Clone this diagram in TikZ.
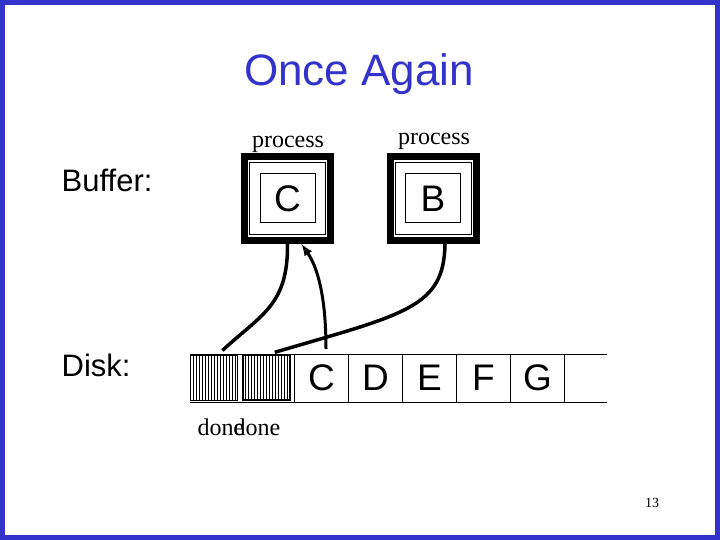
\documentclass[tikz,border=0pt]{standalone}
\usepackage{fontspec}
\setmainfont{Liberation Serif}
\setsansfont{Liberation Sans}
\usepackage{xcolor}
\usepackage{tikz}
\usetikzlibrary{positioning}
\definecolor{slideblue}{RGB}{51,51,204}

\begin{document}
\begin{tikzpicture}[x=1pt, y=-1pt, thick]
        % Define a style for the nodes
        \tikzstyle{outerbox} = [rectangle, draw, line width=7pt, minimum width=86pt, minimum height=84pt, inner sep=0pt]
        \tikzstyle{midbox} = [rectangle, draw, line width=1pt, minimum width=76pt, minimum height=71pt, inner sep=0pt]
        \tikzstyle{letterbox} = [rectangle, draw, line width=1pt, minimum width=55pt, minimum height=49pt, inner sep=0pt, font=\sffamily\fontsize{37}{40}\selectfont]
        \tikzstyle{cell} = [rectangle, draw, line width=1pt, minimum width=54pt, minimum height=48pt, inner sep=0pt, outer sep=0pt, font=\sffamily\fontsize{37}{40}\selectfont]
        \tikzstyle{donecell} = [rectangle, draw, minimum width=47pt, minimum height=45pt, inner sep=0pt,
            path picture={\foreach \i in {1,...,15} \draw[line width=0.6pt] ([xshift=\i*3pt]path picture bounding box.south west) -- ([xshift=\i*3pt]path picture bounding box.north west);}]
        \tikzstyle{label} = [font=\sffamily\fontsize{31}{36}\selectfont, anchor=west]
        \tikzstyle{small} = [font=\fontsize{24}{28}\selectfont, inner sep=0pt]
        \tikzstyle{link} = [line width=3.5pt]
        \tikzstyle{arrow} = [->, line width=3pt, >=latex]

        \useasboundingbox (0,0) rectangle (720,540);
        \draw[slideblue, line width=5pt] (2.5,2.5) rectangle (717.5,537.5);

        % Title and labels
        \node (title) at (359,74) [text=slideblue, font=\sffamily\fontsize{44}{50}\selectfont] {Once Again};
        \node (buffer) at (58,180) [label] {Buffer:};
        \node (disk) at (58,365) [label] {Disk:};

        % Buffer
        \node (bufC) at (287.5,198.5) [outerbox] {};
        \node (frameC) at (bufC) [midbox] {};
        \node (slotC) at (bufC) [letterbox] {C};
        \node (bufB) at (433,198.5) [outerbox] {};
        \node (frameB) at (bufB) [midbox] {};
        \node (slotB) at (bufB) [letterbox] {B};
        \node (procC) at (288,144) [small] {process};
        \node (procB) at (434,141) [small] {process};

        % Disk
        \node (done1) at (214,377.5) [donecell, line width=1pt] {};
        \node (done2) at (266,377.5) [donecell, line width=2pt] {};
        \node (cellC) at (321.5,378) [cell] {C};
        \node (cellD) [cell, right=0pt of cellC] {D};
        \node (cellE) [cell, right=0pt of cellD] {E};
        \node (cellF) [cell, right=0pt of cellE] {F};
        \node (cellG) [cell, right=0pt of cellF] {G};
        \coordinate (rowstart) at (190,354);
        \coordinate (rowend) at (607,354);
        \draw[line width=1pt] (rowstart) -- (rowend);
        \draw[line width=1pt] ([yshift=-48pt]rowstart) -- ([yshift=-48pt]rowend);
        \node (doneA) at (221,427) [small] {done};
        \node (doneB) at (257,427) [small] {done};
        \node (page) at (652,503) [font=\fontsize{14}{16}\selectfont] {13};

        % Edges
        \draw [link, shorten >=6pt] (bufC.south) .. controls (288,305) and (262,314) .. ([xshift=4pt]done1.north);
        \draw [arrow] ([shift={(4.5,-5)}]cellC.north) .. controls (326,298) and (318,268) .. ([xshift=14pt]bufC.south);
        \draw [link, shorten >=6pt] ([xshift=12pt]bufB.south) .. controls (444,308) and (405,314) .. ([xshift=3pt]done2.north);
    \end{tikzpicture}
\end{document}
